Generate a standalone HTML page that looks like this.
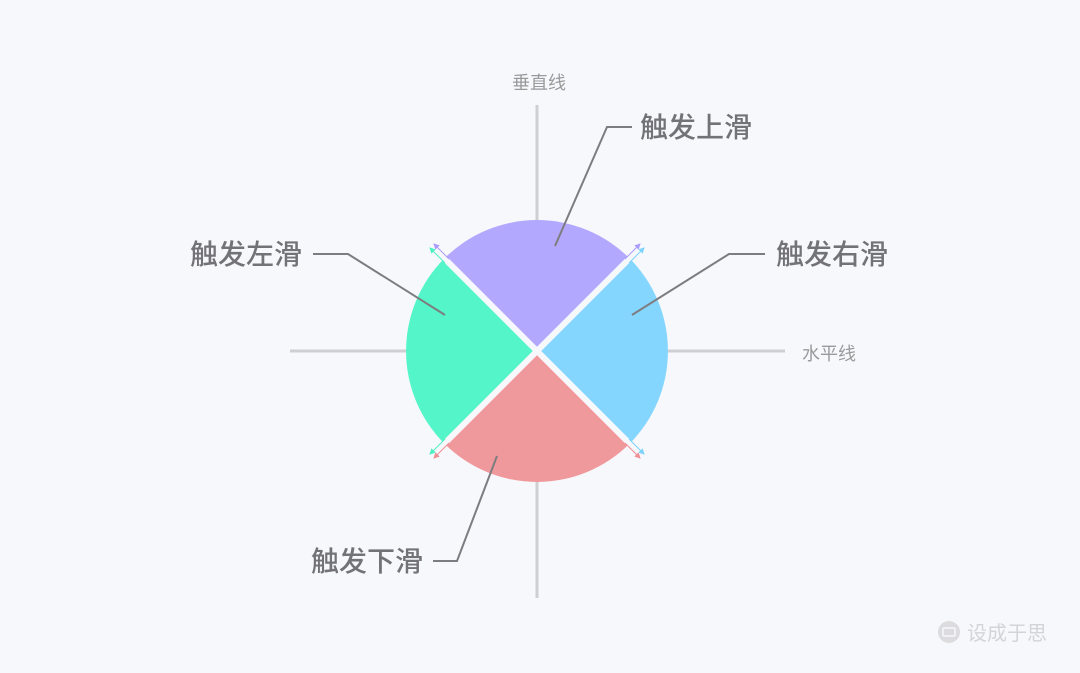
<!DOCTYPE html>
<html><head><meta charset="utf-8"><style>
body{margin:0;width:1080px;height:668px;background:#f7f8fc;overflow:hidden}
text{font-family:"Liberation Sans","Noto Sans CJK SC",sans-serif}
</style></head><body>
<svg width="1080" height="668" viewBox="0 0 1080 668">
<defs>
<marker id="ap" markerWidth="6" markerHeight="6" refX="5" refY="3" orient="auto" markerUnits="userSpaceOnUse"><path d="M0,0L6,3L0,6z" fill="#a99dfb"/></marker>
<marker id="ab" markerWidth="6" markerHeight="6" refX="5" refY="3" orient="auto" markerUnits="userSpaceOnUse"><path d="M0,0L6,3L0,6z" fill="#7ed3fb"/></marker>
<marker id="ag" markerWidth="6" markerHeight="6" refX="5" refY="3" orient="auto" markerUnits="userSpaceOnUse"><path d="M0,0L6,3L0,6z" fill="#4ff0c4"/></marker>
<marker id="ar" markerWidth="6" markerHeight="6" refX="5" refY="3" orient="auto" markerUnits="userSpaceOnUse"><path d="M0,0L6,3L0,6z" fill="#ef8f95"/></marker>
</defs>
<line x1="537" y1="105" x2="537" y2="598" stroke="#cfcfd2" stroke-width="3"/>
<line x1="290" y1="351" x2="785" y2="351" stroke="#cfcfd2" stroke-width="3"/>
<text x="539" y="89" font-size="18" fill="#9a9a9a" text-anchor="middle">垂直线</text>
<text x="802" y="360" font-size="18" fill="#9a9a9a">水平线</text>
<g transform="translate(537,351)">
<path d="M0,0L-92.6,-92.6A131,131 0 0 1 92.6,-92.6Z" fill="#b2a9ff"/>
<path d="M0,0L92.6,-92.6A131,131 0 0 1 92.6,92.6Z" fill="#85d6fe"/>
<path d="M0,0L92.6,92.6A131,131 0 0 1 -92.6,92.6Z" fill="#f0999d"/>
<path d="M0,0L-92.6,92.6A131,131 0 0 1 -92.6,-92.6Z" fill="#54f5c9"/>
<line x1="-100" y1="-100" x2="100" y2="100" stroke="#f7f8fc" stroke-width="6"/>
<line x1="-100" y1="100" x2="100" y2="-100" stroke="#f7f8fc" stroke-width="6"/>
<line x1="-88" y1="-92" x2="-103" y2="-107" stroke="#a99dfb" stroke-width="1" marker-end="url(#ap)"/>
<line x1="-92" y1="-88" x2="-107" y2="-103" stroke="#4ff0c4" stroke-width="1" marker-end="url(#ag)"/>
<line x1="88" y1="-92" x2="103" y2="-107" stroke="#a99dfb" stroke-width="1" marker-end="url(#ap)"/>
<line x1="92" y1="-88" x2="107" y2="-103" stroke="#7ed3fb" stroke-width="1" marker-end="url(#ab)"/>
<line x1="92" y1="88" x2="107" y2="103" stroke="#7ed3fb" stroke-width="1" marker-end="url(#ab)"/>
<line x1="88" y1="92" x2="103" y2="107" stroke="#ef8f95" stroke-width="1" marker-end="url(#ar)"/>
<line x1="-92" y1="88" x2="-107" y2="103" stroke="#4ff0c4" stroke-width="1" marker-end="url(#ag)"/>
<line x1="-88" y1="92" x2="-103" y2="107" stroke="#ef8f95" stroke-width="1" marker-end="url(#ar)"/>
</g>
<g fill="none" stroke="#7d7d80" stroke-width="2">
<polyline points="555,246 607,127 632,127"/>
<polyline points="632,315 729,254 765,254"/>
<polyline points="313,254 348,254 445,315"/>
<polyline points="497,456 457,561 433,561"/>
</g>
<g font-size="28" fill="#737377" font-weight="500">
<text x="640" y="137">触发上滑</text>
<text x="776" y="264">触发右滑</text>
<text x="302" y="264" text-anchor="end">触发左滑</text>
<text x="423" y="571" text-anchor="end">触发下滑</text>
</g>
<circle cx="949" cy="632" r="11" fill="#dcdcde"/>
<rect x="943" y="628" width="12" height="8" rx="1" fill="none" stroke="#f7f8fc" stroke-width="1.5"/>
<text x="967" y="640" font-size="20" fill="#d4d4d6">设成于思</text>
</svg>
</body></html>
